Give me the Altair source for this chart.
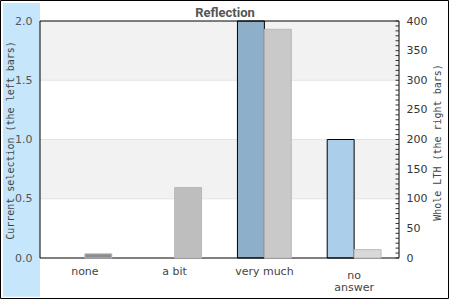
import altair as alt
import pandas as pd

# ---- data ----
categories = ["none", "a bit", "very much", "no answer"]
current_values = [0, 0, 2, 1]            # left bars (current selection)
whole_values = [7, 119, 386, 14]         # right bars (whole LTH)
current_colors = ["#8eafc9", "#8eafc9", "#8eafc9", "#abcfea"]
whole_colors = ["#8c8c8c", "#bebebe", "#c9c9c9", "#d9d9d9"]

left_tick_values = [0, 0.5, 1.0, 1.5, 2.0]
right_label_values = [0, 50, 100, 150, 200, 250, 300, 350, 400]
right_minor_ticks = [round(i * 50 / 6, 3) for i in range(49)]
band_low = [0.5, 1.5]
band_high = [1.0, 2.0]
grid_values = [0.5, 1.0, 1.5]
title_text = ["Reflection"]

W, H = 359, 237

df_cur = pd.DataFrame({"category": categories, "value": current_values,
                       "color": current_colors, "side": "current"})
df_whole = pd.DataFrame({"category": categories, "value": whole_values,
                         "color": whole_colors, "side": "whole"})
df_bands = pd.DataFrame({"lo": band_low, "hi": band_high})
df_grid = pd.DataFrame({"v": grid_values})
df_ticks = pd.DataFrame({"t": right_minor_ticks})
df_title = pd.DataFrame({"t": title_text})
df_one = pd.DataFrame({"k": [0]})

yl_scale = alt.Scale(domain=[0, 2], nice=False, zero=True)
yr_scale = alt.Scale(domain=[0, 400], nice=False, zero=True)

left_axis = alt.Axis(
    values=left_tick_values, format=".1f", ticks=False, domain=False, grid=False,
    labelFont="DejaVu Sans", labelFontSize=11, labelColor="#555", labelPadding=8,
    title="Current selection (the left bars)", titleFont="DejaVu Sans Mono",
    titleFontSize=10, titleFontWeight="normal", titleColor="#444",
    titleAngle=270, titleX=-30, titleY=119, titleAlign="center",
    titleBaseline="middle", zindex=1,
)
right_axis = alt.Axis(
    orient="right", values=right_label_values, ticks=False, domain=False, grid=False,
    labelFont="DejaVu Sans", labelFontSize=11, labelColor="#333", labelPadding=7,
    title="Whole LTH (the right bars)", titleFont="DejaVu Sans Mono",
    titleFontSize=10, titleFontWeight="normal", titleColor="#444",
    titleAngle=270, titleX=38, titleY=121, titleAlign="center",
    titleBaseline="middle", zindex=1,
)
x_axis = alt.Axis(
    title=None, labelAngle=0, ticks=False, domain=False, grid=False,
    labelFont="DejaVu Sans", labelFontSize=11, labelColor="#444",
    labelPadding={"condition": {"test": "datum.label == 'no answer'", "value": 11}, "value": 7},
    labelExpr="datum.label == 'no answer' ? ['no', 'answer'] : datum.label",
    labelLineHeight=12, zindex=1,
)
x_enc = alt.X("category:N", sort=categories,
              scale=alt.Scale(paddingInner=0.4, paddingOuter=0.2), axis=x_axis)
xoff_enc = alt.XOffset("side:N", scale=alt.Scale(domain=["current", "whole"], paddingInner=0, paddingOuter=0))

panel = alt.Chart(df_one).mark_rect(fill="#c6e6fb").encode(
    x=alt.value(-37), x2=alt.value(0), y=alt.value(-18), y2=alt.value(275.7))
outer = alt.Chart(df_one).mark_rect(fillOpacity=0, stroke="black", strokeWidth=1).encode(
    x=alt.value(-39.5), x2=alt.value(408.5), y=alt.value(-20.5), y2=alt.value(277.5))
bands = alt.Chart(df_bands).mark_rect(color="#f2f2f2").encode(
    y=alt.Y("lo:Q", scale=yl_scale, axis=left_axis), y2="hi:Q")
grid = alt.Chart(df_grid).mark_rule(color="#e3e3e3", strokeWidth=1).encode(
    y=alt.Y("v:Q", scale=yl_scale, axis=left_axis))
left_bars = alt.Chart(df_cur).mark_bar(stroke="black", strokeWidth=1).encode(
    x=x_enc, xOffset=xoff_enc,
    y=alt.Y("value:Q", scale=yl_scale, axis=left_axis),
    color=alt.Color("color:N", scale=None),
    opacity=alt.condition("datum.value > 0", alt.value(1), alt.value(0)))
frame = alt.Chart(df_one).mark_rect(fillOpacity=0, stroke="black", strokeWidth=1).encode(
    x=alt.value(0), x2=alt.value(W), y=alt.value(0), y2=alt.value(H))
title = alt.Chart(df_title).mark_text(
    font="Roboto", fontSize=13, fontWeight="bold", color="#555",
    align="center", baseline="alphabetic").encode(
    text="t:N", x=alt.value(185), y=alt.value(-4.5))

right_bars = alt.Chart(df_whole).mark_bar(stroke="#b8b8b8", strokeWidth=1).encode(
    x=x_enc, xOffset=xoff_enc,
    y=alt.Y("value:Q", scale=yr_scale, axis=right_axis),
    color=alt.Color("color:N", scale=None))
ticks = alt.Chart(df_ticks).mark_rule(color="#333", strokeWidth=1).encode(
    y=alt.Y("t:Q", scale=yr_scale, axis=right_axis),
    x=alt.value(355.5), x2=alt.value(359))

left_group = alt.layer(panel, outer, bands, grid, left_bars, frame, title)
right_group = alt.layer(right_bars, ticks)

chart = alt.layer(left_group, right_group).resolve_scale(y="independent").properties(
    width=W, height=H,
    padding={"left": 40, "top": 21, "right": 51, "bottom": 42},
    autosize=alt.AutoSizeParams(type="none"),
    background="white",
).configure_view(stroke=None)

chart.save("out.html", embed_options={"renderer": "svg", "actions": False})
